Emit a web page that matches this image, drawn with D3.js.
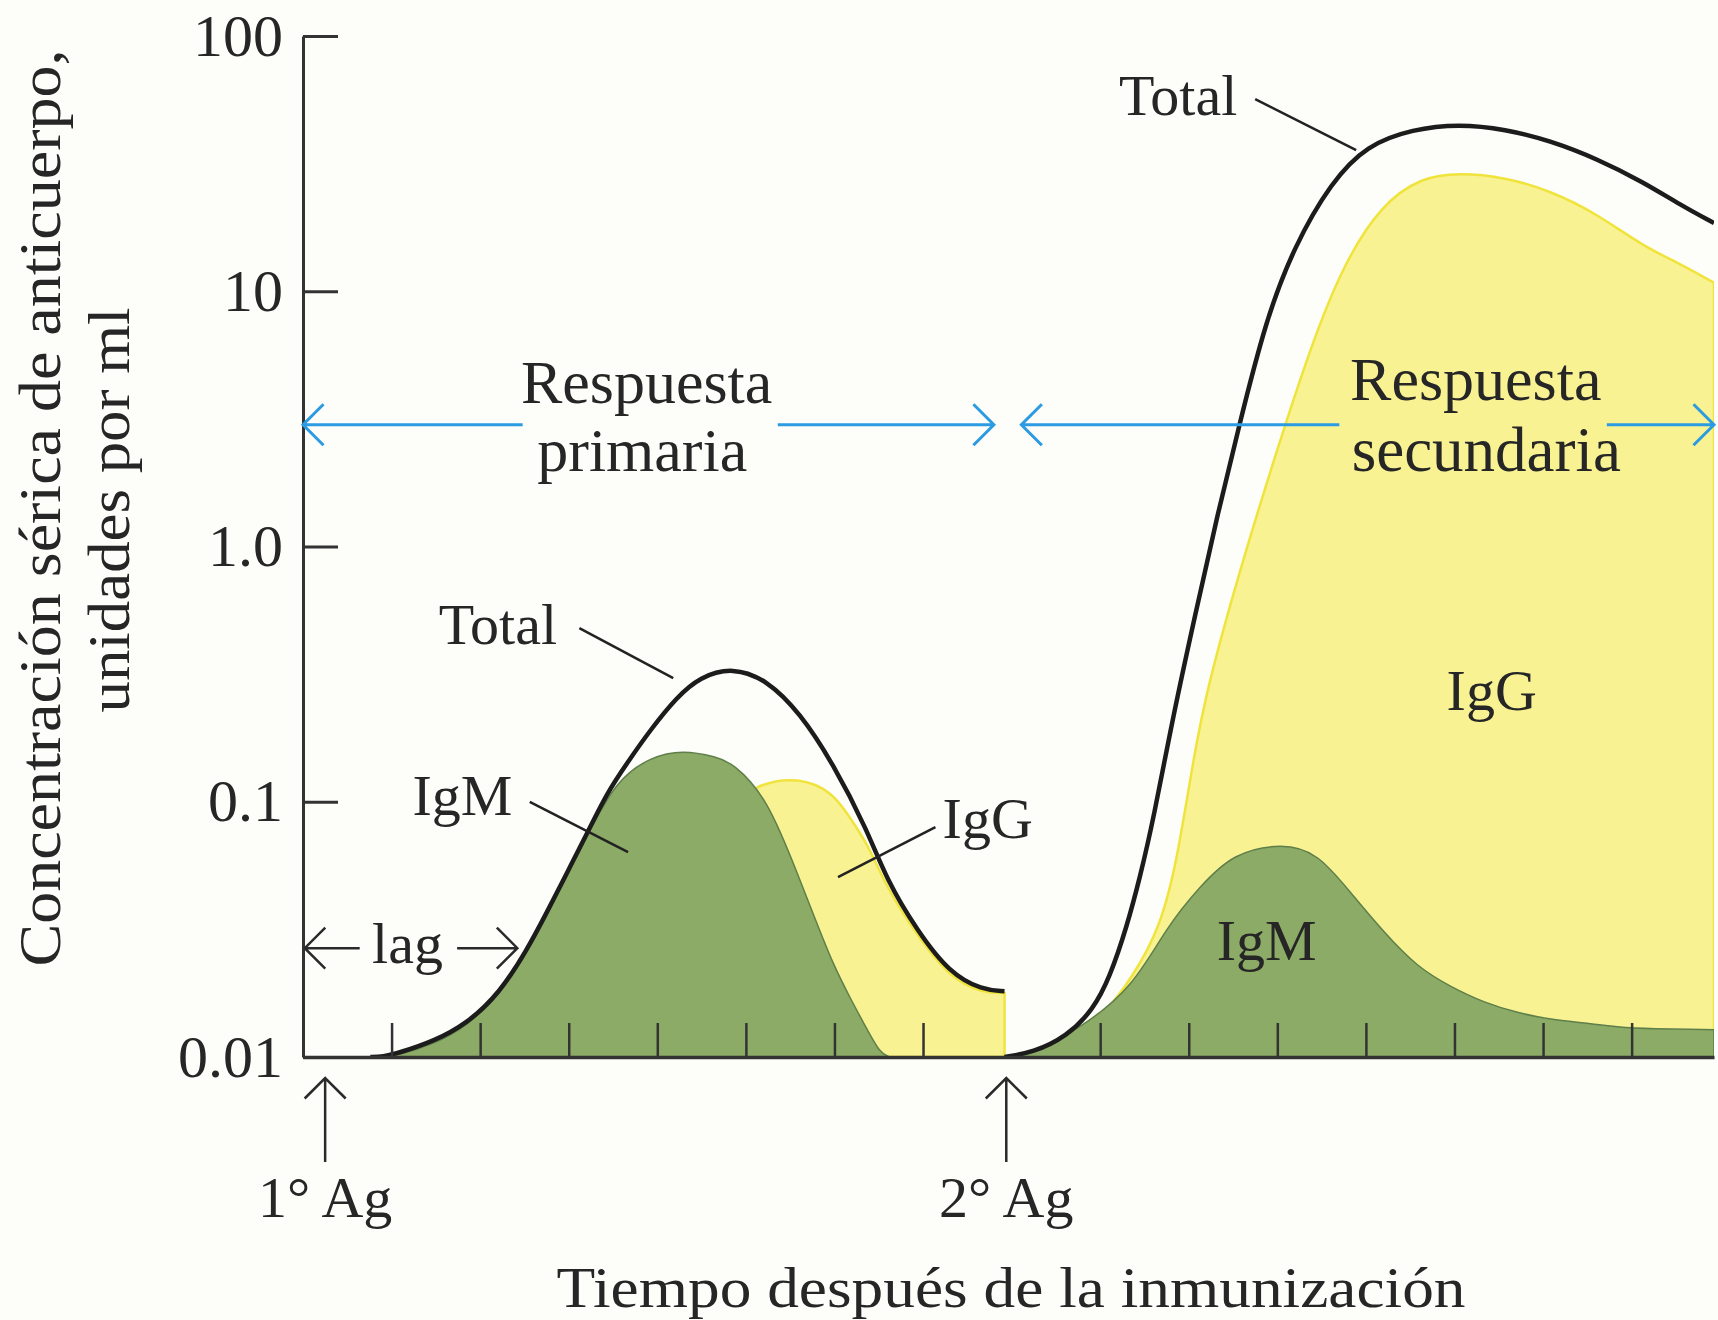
<!DOCTYPE html>
<html>
<head>
<meta charset="utf-8">
<script src="https://cdn.jsdelivr.net/npm/d3@7"></script>
<style>
  body { margin: 0; background: #fdfdfa; }
  svg text { font-family: 'Liberation Serif', 'Times New Roman', serif; fill: #262626; }
</style>
</head>
<body>
<div class="grafico"></div>
<script>
const width = 1718;
const height = 1320;

// respuesta primaria (tiempo en unidades de tick, concentracion en unidades/ml)
const tTotal1 = [0.76, 0.9, 1.09, 1.47, 1.85, 2.22, 2.53, 2.75, 2.98, 3.21, 3.43, 3.66, 3.92, 4.22, 4.48, 4.85, 5.24, 5.61, 5.98, 6.37, 6.59, 6.93, 7.30, 7.67, 7.92];
const vTotal1 = [0.01, 0.01, 0.0104, 0.0115, 0.0135, 0.0178, 0.0263, 0.0367, 0.0526, 0.0755, 0.108, 0.142, 0.191, 0.257, 0.308, 0.337, 0.300, 0.223, 0.142, 0.0775, 0.0494, 0.0314, 0.0213, 0.0183, 0.0181];
const tIgM1 = [0.9, 1.09, 1.47, 1.85, 2.22, 2.53, 2.75, 2.98, 3.21, 3.54, 3.92, 4.29, 4.67, 4.85, 5.24, 5.61, 5.80, 5.98, 6.17, 6.37, 6.51, 6.62];
const vIgM1 = [0.01, 0.0102, 0.0112, 0.0132, 0.0175, 0.0258, 0.036, 0.0515, 0.074, 0.1217, 0.1497, 0.1595, 0.1497, 0.142, 0.1044, 0.0494, 0.0335, 0.0233, 0.0172, 0.0128, 0.0104, 0.01];
const tIgG1 = [3.0, 3.6, 4.2, 4.7, 5.12, 5.6, 5.98, 6.17, 6.37, 6.59, 6.93, 7.30, 7.67, 7.92];
const vIgG1 = [0.01, 0.02, 0.05, 0.09, 0.118, 0.125, 0.109, 0.087, 0.0689, 0.046, 0.030, 0.0205, 0.0178, 0.0178];

// respuesta secundaria
const tTotal2 = [7.92, 8.24, 8.62, 8.92, 9.11, 9.30, 9.45, 9.60, 9.83, 10.07, 10.31, 10.57, 10.87, 11.19, 11.61, 12.01, 12.53, 13.05, 13.57, 14.09, 14.61, 15.13, 15.55, 15.93];
const vTotal2 = [0.01, 0.0104, 0.012, 0.0153, 0.0206, 0.0323, 0.0507, 0.0848, 0.223, 0.534, 1.27, 2.99, 7.71, 15.0, 26.8, 37.4, 43.2, 45.2, 43.2, 38.8, 33.0, 26.8, 21.8, 18.5];
const tIgG2 = [7.92, 8.55, 9.0, 9.37, 9.68, 9.87, 10.05, 10.21, 10.57, 10.97, 11.39, 11.75, 12.17, 12.63, 13.05, 13.57, 14.09, 14.61, 15.13, 15.55, 15.93];
const vIgG2 = [0.01, 0.0107, 0.014, 0.0206, 0.0323, 0.0591, 0.146, 0.282, 0.794, 2.24, 6.27, 12.8, 21.8, 28.0, 29.1, 28.0, 24.7, 20.1, 15.0, 12.8, 10.8];
const tIgM2 = [7.95, 8.24, 8.80, 9.37, 9.75, 10.12, 10.50, 11.06, 11.46, 11.83, 12.21, 12.58, 12.96, 13.34, 13.71, 14.09, 14.47, 14.84, 15.21, 15.93];
const vIgM2 = [0.01, 0.0104, 0.0131, 0.0188, 0.0323, 0.0463, 0.063, 0.0689, 0.063, 0.0439, 0.0306, 0.0225, 0.0188, 0.0163, 0.0149, 0.0140, 0.0136, 0.0131, 0.0129, 0.0128];

// ejes
const yTicks = [0.01, 0.1, 1, 10, 100];
const yTickLabels = ['0.01', '0.1', '1.0', '10', '100'];
const xTicks = [1, 2, 3, 4, 5, 6, 7, 9, 10, 11, 12, 13, 14, 15];
const antigenos = [{ t: 0.25, label: '1° Ag' }, { t: 7.94, label: '2° Ag' }];

// etiquetas y lineas guia (en coordenadas de datos)
const etiquetas = [
  { text: 'Total', t: 9.88, v: 49, size: 58 },
  { text: 'Total', t: 2.20, v: 0.415, size: 58 },
  { text: 'IgM', t: 1.80, v: 0.0887, size: 58 },
  { text: 'IgG', t: 7.73, v: 0.0721, size: 58 },
  { text: 'IgG', t: 13.42, v: 0.229, size: 58 },
  { text: 'IgM', t: 10.88, v: 0.024, size: 58 },
  { text: 'Respuesta', t: 3.88, v: 3.65, size: 62 },
  { text: 'primaria', t: 3.83, v: 1.98, size: 62 },
  { text: 'Respuesta', t: 13.24, v: 3.75, size: 62 },
  { text: 'secundaria', t: 13.36, v: 1.98, size: 63 },
  { text: 'lag', t: 1.18, v: 0.0233, size: 58 }
];
const guias = [
  [[10.75, 56.6], [11.89, 35.7]],
  [[3.12, 0.479], [4.18, 0.305]],
  [[2.56, 0.0998], [3.67, 0.0635]],
  [[7.14, 0.0796], [6.04, 0.0507]]
];
// flechas: desde, hasta (t), nivel (v)
const flechasAzules = [[2.48, 0, 3], [5.36, 7.80, 3], [11.70, 8.11, 3], [14.72, 15.93, 3]];
const flechasLag = [[0.64, 0.02, 0.0267], [1.74, 2.42, 0.0267]];

const x = d3.scaleLinear().domain([0, 15.93]).range([303, 1714]);
const y = d3.scaleLog().domain([0.01, 100]).range([1057, 36]);

const pts = (ts, vs) => ts.map((t, i) => [t, vs[i]]);

const svg = d3.select('.grafico')
  .append('svg')
  .attr('width', width)
  .attr('height', height);

svg.append('defs').append('clipPath').attr('id', 'zona')
  .append('rect')
  .attr('x', x(0)).attr('y', 0)
  .attr('width', x(15.93) - x(0)).attr('height', y(0.01));

const curva = d3.curveBasis;
const area = d3.area()
  .x(d => x(d[0]))
  .y0(y(0.01))
  .y1(d => y(d[1]))
  .curve(curva);
const linea = d3.line()
  .x(d => x(d[0]))
  .y(d => y(d[1]))
  .curve(curva);

const plot = svg.append('g').attr('clip-path', 'url(#zona)');

//areas IgG
[pts(tIgG1, vIgG1), pts(tIgG2, vIgG2)].forEach(d => {
  plot.append('path')
    .attr('d', area(d))
    .attr('fill', '#f8f293')
    .attr('stroke', '#f0e43c')
    .attr('stroke-width', 2.5);
});

//areas IgM
[pts(tIgM1, vIgM1), pts(tIgM2, vIgM2)].forEach(d => {
  plot.append('path')
    .attr('d', area(d))
    .attr('fill', '#8cab66')
    .attr('stroke', '#5f7f4a')
    .attr('stroke-width', 1.5);
});

//ejes
const yAxis = d3.axisLeft(y)
  .tickValues(yTicks)
  .tickFormat((d, i) => yTickLabels[i])
  .tickSizeInner(-35)
  .tickSizeOuter(0)
  .tickPadding(20);

const gy = svg.append('g')
  .attr('transform', `translate(${x(0)},0)`)
  .call(yAxis);
gy.select('.domain').attr('stroke', '#333').attr('stroke-width', 3);
gy.selectAll('.tick line').attr('stroke', '#333').attr('stroke-width', 3);
gy.selectAll('.tick text')
  .attr('font-family', 'Liberation Serif, serif')
  .attr('font-size', 60)
  .attr('fill', '#262626');

const xAxis = d3.axisBottom(x)
  .tickValues(xTicks)
  .tickSizeInner(-34)
  .tickSizeOuter(0)
  .tickFormat('');

const gx = svg.append('g')
  .attr('transform', `translate(0,${y(0.01)})`)
  .call(xAxis);
gx.select('.domain').attr('stroke', '#333').attr('stroke-width', 3.5);
gx.selectAll('.tick line').attr('stroke', '#333').attr('stroke-width', 2.5);

//lineas total
[pts(tTotal1, vTotal1), pts(tTotal2, vTotal2)].forEach(d => {
  plot.append('path')
    .attr('d', linea(d))
    .attr('fill', 'none')
    .attr('stroke', '#1c1c1c')
    .attr('stroke-width', 4.5);
});

// flecha con punta abierta
function flecha(x1, y1, x2, y2, color, w) {
  const a = Math.atan2(y2 - y1, x2 - x1);
  const h = 29;
  const p1 = [x2 - h * Math.cos(a - Math.PI / 4), y2 - h * Math.sin(a - Math.PI / 4)];
  const p2 = [x2 - h * Math.cos(a + Math.PI / 4), y2 - h * Math.sin(a + Math.PI / 4)];
  svg.append('path')
    .attr('d', `M${x1},${y1}L${x2},${y2}M${p1}L${x2},${y2}L${p2}`)
    .attr('fill', 'none')
    .attr('stroke', color)
    .attr('stroke-width', w);
}

flechasAzules.forEach(f => flecha(x(f[0]), y(f[2]), x(f[1]), y(f[2]), '#2b9be2', 3));
flechasLag.forEach(f => flecha(x(f[0]), y(f[2]), x(f[1]), y(f[2]), '#2a2a2a', 2.5));

//antigenos
antigenos.forEach(a => {
  flecha(x(a.t), y(0.01) + 105, x(a.t), y(0.01) + 21, '#2a2a2a', 2.5);
  svg.append('text')
    .attr('x', x(a.t))
    .attr('y', y(0.01) + 160)
    .attr('text-anchor', 'middle')
    .attr('font-size', 58)
    .text(a.label);
});

//guias
guias.forEach(g => {
  svg.append('line')
    .attr('x1', x(g[0][0])).attr('y1', y(g[0][1]))
    .attr('x2', x(g[1][0])).attr('y2', y(g[1][1]))
    .attr('stroke', '#222')
    .attr('stroke-width', 2.5);
});

//etiquetas
svg.selectAll('.etiqueta')
  .data(etiquetas)
  .enter().append('text')
  .attr('class', 'etiqueta')
  .attr('x', d => x(d.t))
  .attr('y', d => y(d.v))
  .attr('text-anchor', 'middle')
  .attr('font-size', d => d.size)
  .text(d => d.text);

//titulos
svg.append('text')
  .attr('transform', 'translate(60,508) rotate(-90)')
  .attr('text-anchor', 'middle')
  .attr('font-size', 60)
  .attr('textLength', 917)
  .attr('lengthAdjust', 'spacingAndGlyphs')
  .text('Concentración sérica de anticuerpo,');

svg.append('text')
  .attr('transform', 'translate(129,510) rotate(-90)')
  .attr('text-anchor', 'middle')
  .attr('font-size', 60)
  .attr('textLength', 405)
  .attr('lengthAdjust', 'spacingAndGlyphs')
  .text('unidades por ml');

svg.append('text')
  .attr('x', 1011)
  .attr('y', 1307)
  .attr('text-anchor', 'middle')
  .attr('font-size', 58)
  .attr('textLength', 909)
  .attr('lengthAdjust', 'spacingAndGlyphs')
  .text('Tiempo después de la inmunización');
</script>
</body>
</html>
